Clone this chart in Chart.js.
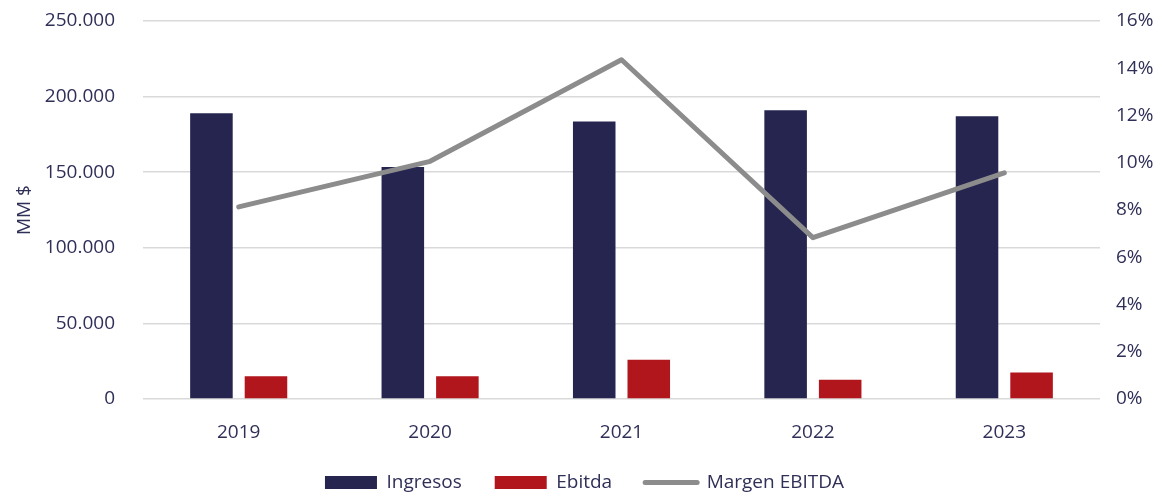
<!DOCTYPE html>
<html>
<head>
<meta charset="utf-8">
<script src="https://cdn.jsdelivr.net/npm/chart.js@4/dist/chart.umd.min.js"></script>
<style>
html,body{margin:0;padding:0;background:#fff;}
#wrap{width:1169px;height:498px;}
</style>
</head>
<body>
<div id="wrap"><canvas id="c" width="1169" height="498"></canvas></div>
<script>
const categories = ['2019', '2020', '2021', '2022', '2023'];
const ingresos = [189000, 153500, 183500, 191000, 187000];
const ebitda = [15000, 15000, 26000, 12800, 17600];
const margen = [8.13, 10.06, 14.36, 6.83, 9.57];
const leftTicks = [0, 50000, 100000, 150000, 200000, 250000];
const rightTicks = [0, 2, 4, 6, 8, 10, 12, 14, 16];

const textColor = '#2f2f58';
const fontFam = "'Open Sans', 'Noto Sans', sans-serif";
const fs = 19;

function fmtThousands(v) {
  return String(Math.round(v)).replace(/\B(?=(\d{3})+(?!\d))/g, '.');
}

new Chart(document.getElementById('c'), {
  data: {
    labels: categories,
    datasets: [
      { type: 'bar', label: 'Ingresos', data: ingresos, backgroundColor: '#252550', yAxisID: 'y', order: 1,
        barPercentage: 0.78, categoryPercentage: 0.57 },
      { type: 'bar', label: 'Ebitda', data: ebitda, backgroundColor: '#B0161C', yAxisID: 'y', order: 1,
        barPercentage: 0.78, categoryPercentage: 0.57 },
      { type: 'line', label: 'Margen EBITDA', data: margen, borderColor: '#8C8C8C', backgroundColor: '#8C8C8C',
        borderWidth: 5, pointRadius: 0, pointHoverRadius: 0, yAxisID: 'y1', order: 0, tension: 0,
        borderCapStyle: 'round', borderJoinStyle: 'round' }
    ]
  },
  options: {
    responsive: false,
    animation: false,
    layout: { padding: { top: 21, bottom: -4, left: 0, right: 0 } },
    plugins: {
      tooltip: { enabled: false },
      legend: {
        position: 'bottom',
        labels: {
          usePointStyle: true,
          pointStyleWidth: 52,
          boxHeight: 13,
          padding: 33,
          color: textColor,
          font: { family: fontFam, size: fs },
          sort: (a, b) => a.datasetIndex - b.datasetIndex,
          generateLabels(chart) {
            const items = Chart.defaults.plugins.legend.labels.generateLabels(chart);
            items.forEach(it => {
              const ds = chart.data.datasets[it.datasetIndex];
              if (ds.type === 'line') {
                it.pointStyle = 'line';
                it.lineWidth = 5;
                it.strokeStyle = ds.borderColor;
                it.fillStyle = ds.borderColor;
                it.lineCap = 'round';
              } else {
                it.pointStyle = 'rect';
                it.lineWidth = 0;
                it.fillStyle = ds.backgroundColor;
                it.strokeStyle = ds.backgroundColor;
              }
            });
            return items;
          }
        }
      }
    },
    scales: {
      x: {
        grid: { display: false },
        border: { display: false },
        afterFit(s) { s.height = 41; s.paddingLeft = 0; s.paddingRight = 0; },
        ticks: { color: textColor, font: { family: fontFam, size: fs }, padding: 14 }
      },
      y: {
        position: 'left',
        min: 0, max: 250000,
        afterBuildTicks(s) { s.ticks = leftTicks.map(v => ({ value: v })); },
        afterFit(s) { s.width = 143; s.paddingTop = 0; s.paddingBottom = 0; },
        grid: { color: '#D9D9D9', lineWidth: 1.5, drawTicks: false },
        border: { display: false },
        ticks: { color: textColor, font: { family: fontFam, size: fs }, padding: 28,
          callback: v => fmtThousands(v) },
        title: { display: true, text: 'MM $', color: textColor, font: { family: fontFam, size: fs },
          padding: { top: 13, bottom: 0 } }
      },
      y1: {
        position: 'right',
        min: 0, max: 16,
        afterBuildTicks(s) { s.ticks = rightTicks.map(v => ({ value: v })); },
        afterFit(s) { s.width = 69; s.paddingTop = 0; s.paddingBottom = 0; },
        grid: { display: false, drawTicks: false },
        border: { display: false },
        ticks: { color: textColor, font: { family: fontFam, size: fs }, padding: 16,
          callback: v => v + '%' }
      }
    }
  }
});
</script>
</body>
</html>
